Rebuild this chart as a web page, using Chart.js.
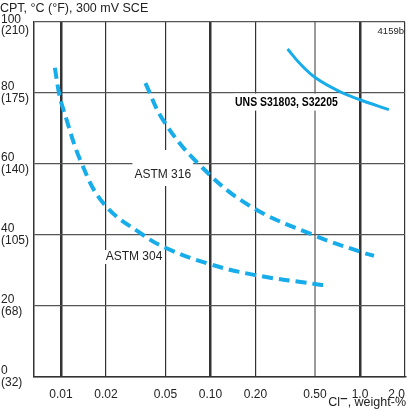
<!DOCTYPE html>
<html lang="en">
<head>
<meta charset="UTF-8">
<title>CPT vs chloride</title>
<style>
  html, body { margin: 0; padding: 0; background: #fff; }
  #wrap { width: 410px; height: 411px; }
</style>
</head>
<body>
<div id="wrap"><canvas id="cptChart" width="410" height="411"></canvas></div>
<script src="https://cdn.jsdelivr.net/npm/chart.js"></script>
<script>
// chloride content, weight-% (x) and CPT, °C (y)
const ASTM304_CL  = [0.0091, 0.0097, 0.0103, 0.0138, 0.0196, 0.0354, 0.050, 0.095, 0.20, 0.50, 0.59];
const ASTM304_CPT = [87.1, 80.0, 75.8, 60.0, 48.5, 40.0, 36.4, 32.0, 28.7, 26.2, 25.8];

const ASTM316_CL  = [0.0367, 0.048, 0.082, 0.18, 0.50, 1.0, 1.24];
const ASTM316_CPT = [82.8, 72.5, 60.3, 48.4, 39.8, 35.3, 34.1];

const UNS_CL  = [0.328, 0.392, 0.507, 0.724, 1.0, 1.56];
const UNS_CPT = [92.4, 88.5, 84.2, 80.5, 78.1, 75.3];

// axis ticks
const X_TICKS  = [0.01, 0.02, 0.05, 0.1, 0.2, 0.5, 1.0, 2.0];
const X_LABELS = ['0.01', '0.02', '0.05', '0.10', '0.20', '0.50', '1.0', '2.0'];
const X_MAJOR  = [0.01, 0.1, 1.0];
const Y_TICKS_C = [0, 20, 40, 60, 80, 100];
const Y_TICKS_F = ['(32)', '(68)', '(105)', '(140)', '(175)', '(210)'];

// curve labels, anchored in data units (left edge, vertical centre)
const NOTE_TEXT = ['ASTM 316', 'ASTM 304', 'UNS S31803, S32205'];
const NOTE_CL   = [0.031, 0.0199, 0.146];
const NOTE_CPT  = [56.9, 33.8, 77.3];

const FONT = "'Liberation Sans', Arial, Helvetica, sans-serif";
const BLUE = '#17acea';
const TOP = Y_TICKS_C.length - 1;

function pts(xs, ys) {
    return xs.map((x, i) => ({ x: x, y: ys[i] }));
}

function near(a, b) {
    return Math.abs(a - b) < 1e-9;
}

// titles, small id and curve labels
const textPlugin = {
    id: 'texts',
    beforeDatasetsDraw(chart) {
        // white patches behind the labels, over the grid
        const ctx = chart.ctx;
        const xs = chart.scales.x, ys = chart.scales.y;
        const pads = [[2, 25, 11], [2, 7, 7], [2, 9, 8]];
        ctx.save();
        ctx.fillStyle = '#fff';
        NOTE_TEXT.forEach((t, i) => {
            const px = xs.getPixelForValue(NOTE_CL[i]);
            const py = ys.getPixelForValue(NOTE_CPT[i]);
            ctx.font = (i === 2 ? 'bold ' : '') + '12px ' + FONT;
            let w = ctx.measureText(t).width;
            if (i === 2) w *= 0.87;
            const p = pads[i];
            ctx.fillRect(px - p[0], py - p[1], w + 2 * p[0], p[1] + p[2]);
        });
        ctx.restore();
    },
    afterDraw(chart) {
        const ctx = chart.ctx;
        const xs = chart.scales.x, ys = chart.scales.y;
        const area = chart.chartArea;
        ctx.save();
        ctx.fillStyle = '#222';
        ctx.textBaseline = 'alphabetic';

        ctx.font = '12.5px ' + FONT;
        ctx.textAlign = 'left';
        ctx.fillText('CPT, °C (°F), 300 mV SCE', 0, 12);

        // top y label sits a little below its grid line, clear of the title
        ctx.font = '12px ' + FONT;
        ctx.textBaseline = 'middle';
        const yTop = ys.getPixelForValue(Y_TICKS_C[TOP]);
        ctx.fillText(String(Y_TICKS_C[TOP]), 1, yTop - 2.5);
        ctx.fillText(Y_TICKS_F[TOP], 1, yTop + 8.5);

        // x-axis title with superscript minus
        ctx.textBaseline = 'alphabetic';
        ctx.font = '12.5px ' + FONT;
        const rest = ', weight-%';
        const clW = ctx.measureText('Cl').width;
        const restW = ctx.measureText(rest).width;
        const supW = 7.5;
        let x0 = 406 - restW - supW - clW;
        ctx.fillText('Cl', x0, 406);
        ctx.fillRect(x0 + clW + 0.5, 398, supW - 1, 1.2);
        ctx.fillText(rest, x0 + clW + supW, 406);

        ctx.font = '9.5px ' + FONT;
        ctx.textAlign = 'right';
        ctx.fillText('4159b', area.right - 1, 33.5);

        ctx.textAlign = 'left';
        ctx.textBaseline = 'middle';
        NOTE_TEXT.forEach((t, i) => {
            const px = xs.getPixelForValue(NOTE_CL[i]);
            const py = ys.getPixelForValue(NOTE_CPT[i]);
            if (i === 2) {
                ctx.save();
                ctx.font = 'bold 12px ' + FONT;
                ctx.fillStyle = '#000';
                ctx.translate(px, py);
                ctx.scale(0.87, 1);
                ctx.fillText(t, 0, 0);
                ctx.restore();
            } else {
                ctx.font = '12px ' + FONT;
                ctx.fillText(t, px, py);
            }
        });
        ctx.restore();
    }
};

const lineStyle = {
    showLine: true,
    borderColor: BLUE,
    pointRadius: 0,
    tension: 0.4
};

const ctx = document.getElementById('cptChart').getContext('2d');
new Chart(ctx, {
    type: 'scatter',
    data: {
        datasets: [
            Object.assign({
                label: 'ASTM 304',
                data: pts(ASTM304_CL, ASTM304_CPT),
                borderWidth: 4,
                borderDash: [11, 6]
            }, lineStyle),
            Object.assign({
                label: 'ASTM 316',
                data: pts(ASTM316_CL, ASTM316_CPT),
                borderWidth: 4,
                borderDash: [11, 6]
            }, lineStyle),
            Object.assign({
                label: 'UNS S31803, S32205',
                data: pts(UNS_CL, UNS_CPT),
                borderWidth: 3
            }, lineStyle)
        ]
    },
    options: {
        responsive: false,
        animation: false,
        layout: { padding: { top: 22, right: 5, left: 1, bottom: 0 } },
        plugins: {
            legend: { display: false },
            title: { display: false },
            tooltip: { enabled: false }
        },
        scales: {
            x: {
                type: 'logarithmic',
                min: 0.0066,
                max: 2.0,
                afterBuildTicks: (axis) => {
                    axis.ticks = X_TICKS.map(v => ({ value: v }));
                },
                afterFit: (scale) => {
                    scale.height = 34;
                    scale.paddingLeft = 0;
                    scale.paddingRight = 0;
                },
                ticks: {
                    autoSkip: false,
                    maxRotation: 0,
                    padding: 10,
                    color: '#222',
                    font: { family: FONT, size: 12 },
                    callback: (value) => {
                        const i = X_TICKS.findIndex(t => near(t, value));
                        if (i < 0) return '';
                        // last label sits inside the window
                        return i === X_TICKS.length - 1 ? X_LABELS[i] + '     ' : X_LABELS[i];
                    }
                },
                grid: {
                    drawTicks: false,
                    color: (c) => (c.tick && near(c.tick.value, 0.5)) ? '#9a9a9a' : '#333',
                    lineWidth: (c) => {
                        if (!c.tick) return 1.2;
                        if (X_MAJOR.some(m => near(m, c.tick.value))) return 2.5;
                        if (near(c.tick.value, 0.5)) return 2;
                        return 1.2;
                    }
                },
                border: { display: true, color: '#333', width: 1.5 }
            },
            y: {
                min: 0,
                max: 100,
                afterBuildTicks: (axis) => {
                    axis.ticks = Y_TICKS_C.map(v => ({ value: v }));
                },
                afterFit: (scale) => { scale.width = 33; },
                ticks: {
                    crossAlign: 'far',
                    color: '#222',
                    font: { family: FONT, size: 12, lineHeight: 1.0 },
                    callback: (value) => {
                        const i = Y_TICKS_C.indexOf(value);
                        if (i < 0 || i === TOP) return '';
                        return [String(value), Y_TICKS_F[i]];
                    }
                },
                grid: { drawTicks: false, color: '#555', lineWidth: 1.2 },
                border: { display: true, color: '#333', width: 1.5 }
            }
        }
    },
    plugins: [textPlugin]
});
</script>
</body>
</html>
